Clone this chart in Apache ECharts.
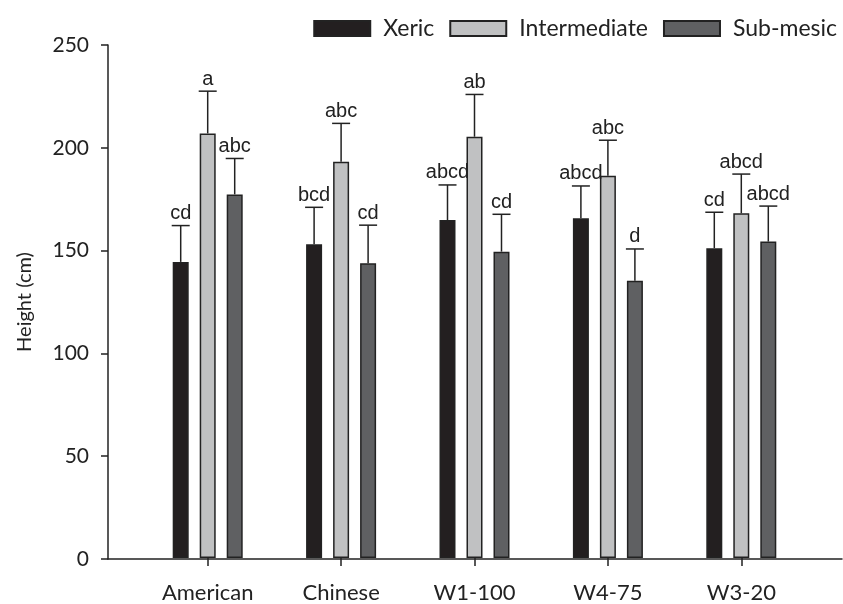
<!DOCTYPE html>
<html>
<head>
<meta charset="utf-8">
<script src="https://cdn.jsdelivr.net/npm/echarts@6/dist/echarts.min.js"></script>
<style>
  html, body { margin: 0; padding: 0; background: #fff; }
  #chart { width: 843px; height: 604px; }
</style>
</head>
<body>
<div id="chart"></div>
<script>
// Plant height by provenance under three moisture regimes (mean + SE)
const categories = ['American', 'Chinese', 'W1-100', 'W4-75', 'W3-20'];

const xeric = [144.3, 152.9, 164.7, 165.6, 151.0];
const xericErr = [17.7, 18.0, 17.1, 15.7, 17.5];
const xericLetters = ['cd', 'bcd', 'abcd', 'abcd', 'cd'];

const intermediate = [206.9, 193.1, 205.3, 186.3, 168.0];
const intermediateErr = [20.6, 18.7, 20.6, 17.3, 19.1];
const intermediateLetters = ['a', 'abc', 'ab', 'abc', 'abcd'];

const subMesic = [177.2, 143.7, 149.3, 135.1, 154.2];
const subMesicErr = [17.5, 18.5, 18.2, 15.5, 17.3];
const subMesicLetters = ['abc', 'cd', 'cd', 'd', 'abcd'];

const yTicks = { min: 0, max: 250, interval: 50 };

const INK = '#222';
const AXIS_FONT = 'Lato, "Open Sans", sans-serif';
const LETTER_FONT = '"Liberation Sans", Arial, sans-serif';
const BAR_W = 16;
const BAR_GAP = 0.6875;               // gap between neighbouring bars, as a fraction of width
const SLOT_STEP = BAR_W * (1 + BAR_GAP);

const groups = [
  { name: 'Xeric', values: xeric, errs: xericErr, letters: xericLetters, color: '#231f20' },
  { name: 'Intermediate', values: intermediate, errs: intermediateErr, letters: intermediateLetters, color: '#c0c1c2' },
  { name: 'Sub-mesic', values: subMesic, errs: subMesicErr, letters: subMesicLetters, color: '#5f6062' }
];

const barSeries = groups.map(g => ({
  name: g.name,
  type: 'bar',
  xAxisIndex: 1,
  yAxisIndex: 1,
  barWidth: BAR_W,
  barGap: (BAR_GAP * 100) + '%',
  itemStyle: { color: g.color, borderColor: INK, borderWidth: 1.5 },
  data: g.values
}));

// Upper error whiskers with significance letters above the caps
const errorSeries = groups.map((g, slot) => ({
  name: g.name + ' SE',
  type: 'custom',
  xAxisIndex: 1,
  yAxisIndex: 1,
  z: 5,
  data: g.values.map((v, i) => [i, v, v + g.errs[i]]),
  renderItem: function (params, api) {
    const i = api.value(0);
    const base = api.coord([i, api.value(1)]);
    const top = api.coord([i, api.value(2)]);
    const x = base[0] + (slot - 1) * SLOT_STEP;
    const line = { stroke: INK, lineWidth: 1.5 };
    return {
      type: 'group',
      children: [
        { type: 'line', shape: { x1: x, y1: base[1], x2: x, y2: top[1] }, style: line },
        { type: 'line', shape: { x1: x - 9, y1: top[1], x2: x + 9, y2: top[1] }, style: line },
        {
          type: 'text',
          style: {
            text: g.letters[params.dataIndex],
            x: x,
            y: top[1] - 2,
            align: 'center',
            verticalAlign: 'bottom',
            font: '20px ' + LETTER_FONT,
            fill: INK
          }
        }
      ]
    };
  }
}));

const chart = echarts.init(document.getElementById('chart'), null, { renderer: 'canvas' });
chart.setOption({
  animation: false,
  backgroundColor: '#fff',
  legend: {
    data: groups.map(g => g.name),
    right: 1,
    top: 12,
    icon: 'rect',
    itemWidth: 56,
    itemHeight: 15,
    itemGap: 15,
    selectedMode: false,
    textStyle: { fontFamily: AXIS_FONT, fontSize: 23, color: INK, padding: [0, 0, 0, 8] }
  },
  grid: [
    // frame grid: y axis and full-width baseline
    { left: 108, right: 1, top: 45, bottom: 45 },
    // plotting grid: category bands
    { left: 141, right: 35, top: 45, bottom: 45 }
  ],
  xAxis: [
    {
      type: 'value', gridIndex: 0, min: 0, max: 1,
      axisLine: { show: true, lineStyle: { color: INK, width: 1.5 } },
      axisTick: { show: false }, axisLabel: { show: false }, splitLine: { show: false }
    },
    {
      type: 'category', gridIndex: 1, data: categories,
      axisLine: { show: false },
      axisTick: { show: true, alignWithLabel: true, length: 8, lineStyle: { color: INK, width: 1.5 } },
      axisLabel: { fontFamily: AXIS_FONT, fontSize: 22, color: INK, margin: 24 },
      splitLine: { show: false }
    }
  ],
  yAxis: [
    {
      type: 'value', gridIndex: 0, min: yTicks.min, max: yTicks.max, interval: yTicks.interval,
      name: 'Height (cm)', nameLocation: 'middle', nameGap: 73,
      nameTextStyle: { fontFamily: AXIS_FONT, fontSize: 20, color: INK },
      axisLine: { show: true, lineStyle: { color: INK, width: 1.5 } },
      axisTick: { show: true, length: 7, lineStyle: { color: INK, width: 1.5 } },
      axisLabel: { fontFamily: AXIS_FONT, fontSize: 21, color: INK, margin: 19 },
      splitLine: { show: false }
    },
    {
      type: 'value', gridIndex: 1, min: yTicks.min, max: yTicks.max, show: false,
      splitLine: { show: false }
    }
  ],
  series: barSeries.concat(errorSeries)
});
</script>
</body>
</html>
